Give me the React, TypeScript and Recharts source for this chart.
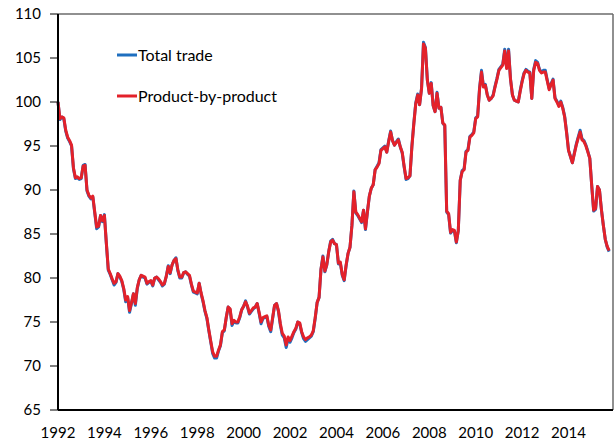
import React from 'react';
import { LineChart, Line, XAxis, YAxis, ReferenceLine } from 'recharts';

// Monthly index values, Jan 1992 .. Oct 2015
const productByProduct = [
  100.0, 98.1, 98.3, 98.2, 96.8, 96.0, 95.6, 95.1, 92.5, 91.4, 91.5, 91.3, // 1992
  91.4, 92.7, 92.8, 90.0, 89.4, 89.1, 89.3, 87.5, 85.8, 85.9, 87.1, 86.5, // 1993
  87.1, 84.0, 81.0, 80.5, 79.9, 79.4, 79.6, 80.5, 80.2, 79.7, 78.8, 77.5, // 1994
  77.9, 76.3, 77.2, 78.2, 77.1, 78.9, 79.8, 80.3, 80.2, 80.1, 79.4, 79.6, // 1995
  79.7, 79.2, 80.0, 80.1, 79.9, 79.6, 79.2, 79.4, 80.2, 81.3, 80.6, 81.5, // 1996
  82.0, 82.2, 80.9, 80.1, 80.1, 80.6, 80.7, 80.5, 80.3, 79.3, 78.5, 78.4, // 1997
  78.3, 79.4, 78.3, 77.4, 76.3, 75.5, 74.1, 72.8, 71.6, 71.1, 71.1, 71.8, // 1998
  72.4, 73.9, 74.1, 75.5, 76.7, 76.5, 74.8, 75.2, 75.0, 75.0, 75.6, 76.4, // 1999
  76.8, 77.3, 76.8, 76.0, 76.3, 76.6, 76.7, 77.1, 76.1, 75.0, 75.5, 75.6, // 2000
  75.7, 74.6, 74.1, 75.5, 76.9, 77.1, 76.3, 74.8, 73.7, 73.4, 72.4, 73.3, // 2001
  72.9, 73.4, 73.9, 74.3, 75.0, 74.9, 73.9, 73.3, 73.0, 73.2, 73.3, 73.5, // 2002
  74.0, 75.5, 77.2, 77.8, 81.0, 82.4, 80.8, 81.5, 83.0, 84.1, 84.3, 83.9, // 2003
  83.8, 81.7, 81.8, 80.4, 79.8, 81.5, 82.8, 83.5, 86.0, 89.8, 87.5, 87.2, // 2004
  86.8, 86.4, 87.7, 85.6, 87.5, 89.3, 90.2, 90.6, 92.3, 92.6, 93.0, 94.5, // 2005
  94.7, 94.9, 94.3, 95.5, 96.6, 95.6, 95.1, 95.4, 95.7, 94.9, 94.3, 92.7, // 2006
  91.3, 91.4, 91.6, 94.9, 97.5, 99.8, 100.8, 99.7, 101.5, 106.6, 106.1, 102.5, // 2007
  101.0, 102.1, 99.6, 98.9, 101.0, 99.3, 99.4, 97.6, 97.4, 87.6, 87.3, 85.2, // 2008
  85.5, 85.4, 84.1, 85.4, 91.1, 92.1, 92.3, 94.3, 94.5, 96.0, 96.2, 96.5, // 2009
  98.1, 98.3, 101.5, 103.4, 101.7, 101.9, 100.8, 100.2, 100.4, 100.7, 101.7, 102.6, // 2010
  103.6, 103.9, 104.2, 105.8, 103.8, 105.8, 102.6, 100.8, 100.2, 100.1, 100.0, 101.2, // 2011
  102.3, 103.2, 103.6, 103.4, 103.3, 100.4, 103.6, 104.5, 104.4, 103.6, 103.3, 103.4, // 2012
  103.4, 102.4, 101.4, 102.0, 102.5, 100.4, 100.0, 99.5, 100.0, 99.3, 98.3, 96.5, // 2013
  94.5, 93.8, 93.1, 94.1, 95.1, 95.9, 96.6, 95.7, 95.5, 95.0, 94.3, 93.6, // 2014
  90.5, 87.7, 87.9, 90.4, 90.0, 87.8, 86.0, 84.4, 83.6, 83.1, // 2015
];

const totalTrade = [
  100.0, 98.0, 98.3, 98.1, 96.7, 95.9, 95.5, 95.0, 92.4, 91.3, 91.4, 91.2, // 1992
  91.3, 92.8, 92.9, 89.9, 89.3, 89.0, 89.2, 87.4, 85.6, 85.8, 87.1, 86.4, // 1993
  87.2, 83.9, 80.9, 80.4, 79.8, 79.2, 79.5, 80.5, 80.1, 79.6, 78.7, 77.3, // 1994
  77.8, 76.1, 77.1, 78.2, 76.9, 78.8, 79.8, 80.3, 80.1, 80.0, 79.3, 79.5, // 1995
  79.6, 79.1, 80.0, 80.1, 79.8, 79.5, 79.1, 79.3, 80.2, 81.4, 80.5, 81.5, // 1996
  82.0, 82.3, 80.8, 80.0, 80.0, 80.6, 80.7, 80.4, 80.2, 79.2, 78.4, 78.3, // 1997
  78.2, 79.4, 78.2, 77.3, 76.2, 75.4, 74.0, 72.7, 71.4, 70.9, 70.9, 71.7, // 1998
  72.3, 73.8, 74.0, 75.5, 76.7, 76.4, 74.6, 75.1, 74.9, 74.9, 75.5, 76.4, // 1999
  76.8, 77.4, 76.7, 75.9, 76.2, 76.5, 76.7, 77.1, 76.0, 74.8, 75.4, 75.5, // 2000
  75.6, 74.5, 73.9, 75.4, 76.9, 77.1, 76.2, 74.6, 73.5, 73.2, 72.1, 73.1, // 2001
  72.7, 73.2, 73.8, 74.2, 75.0, 74.8, 73.8, 73.1, 72.8, 73.0, 73.2, 73.4, // 2002
  73.9, 75.4, 77.2, 77.8, 81.0, 82.5, 80.7, 81.5, 83.0, 84.2, 84.4, 83.9, // 2003
  83.8, 81.6, 81.7, 80.3, 79.7, 81.4, 82.8, 83.5, 86.0, 89.9, 87.4, 87.1, // 2004
  86.7, 86.3, 87.7, 85.5, 87.5, 89.3, 90.2, 90.6, 92.3, 92.7, 93.1, 94.6, // 2005
  94.8, 95.0, 94.3, 95.6, 96.7, 95.6, 95.1, 95.5, 95.8, 94.9, 94.2, 92.6, // 2006
  91.2, 91.3, 91.6, 95.0, 97.6, 99.9, 100.9, 99.7, 101.6, 106.8, 106.2, 102.5, // 2007
  101.0, 102.2, 99.6, 98.9, 101.1, 99.3, 99.4, 97.6, 97.3, 87.5, 87.2, 85.1, // 2008
  85.4, 85.3, 84.0, 85.4, 91.1, 92.2, 92.4, 94.4, 94.6, 96.1, 96.3, 96.6, // 2009
  98.2, 98.4, 101.6, 103.6, 101.8, 102.0, 100.8, 100.2, 100.4, 100.8, 101.8, 102.7, // 2010
  103.7, 104.0, 104.3, 106.0, 103.9, 106.0, 102.6, 100.8, 100.2, 100.1, 100.0, 101.3, // 2011
  102.4, 103.3, 103.7, 103.5, 103.4, 100.4, 103.7, 104.7, 104.5, 103.7, 103.4, 103.6, // 2012
  103.6, 102.5, 101.5, 102.1, 102.6, 100.5, 100.1, 99.6, 100.1, 99.4, 98.4, 96.6, // 2013
  94.5, 93.8, 93.1, 94.2, 95.2, 96.0, 96.8, 95.8, 95.6, 95.1, 94.4, 93.6, // 2014
  90.5, 87.6, 87.8, 90.4, 90.0, 87.8, 86.0, 84.4, 83.5, 83.0, // 2015
];

const yearLabels = ['1992', '1994', '1996', '1998', '2000', '2002', '2004', '2006', '2008', '2010', '2012', '2014'];
const yTicks = [65, 70, 75, 80, 85, 90, 95, 100, 105, 110];
const seriesNames = ['Total trade', 'Product-by-product'];

const data = productByProduct.map((v, i) => ({ i, total: totalTrade[i], product: v }));
const xTicks = yearLabels.map((_, k) => k * 24);

const BLUE = '#1f6fbf';
const RED = '#e3212a';
const FONT = 'Lato, "Open Sans", sans-serif';

const LegendBox = () => (
  <div style={{ position: 'absolute', left: 117, top: 34, fontFamily: FONT, fontSize: 16, color: '#000' }}>
    {[BLUE, RED].map((c, k) => (
      <div key={k} style={{ display: 'flex', alignItems: 'center', height: 41 }}>
        <svg width={20} height={6} style={{ display: 'block' }}>
          <line x1={0} y1={3} x2={20} y2={3} stroke={c} strokeWidth={3} />
        </svg>
        <span style={{ marginLeft: 1, whiteSpace: 'nowrap' }}>{seriesNames[k]}</span>
      </div>
    ))}
  </div>
);

export default function App() {
  return (
    <div style={{ position: 'absolute', left: 0, top: 0, width: 615, height: 445, background: '#fff' }}>
      <LineChart width={615} height={445} data={data} margin={{ top: 14, right: 2, left: 0, bottom: 0 }}>
        <XAxis
          type="number"
          dataKey="i"
          domain={[0, 287]}
          ticks={xTicks}
          interval={0}
          tickFormatter={(v: number) => yearLabels[Math.round(v / 24)]}
          tickLine={false}
          tickSize={0}
          tickMargin={17}
          height={35}
          axisLine={{ stroke: '#000', strokeWidth: 2 }}
          tick={{ fill: '#000', fontSize: 15, fontFamily: FONT }}
        />
        <YAxis
          type="number"
          domain={[65, 110]}
          ticks={yTicks}
          interval={0}
          width={58}
          tickSize={8}
          tickMargin={9}
          axisLine={{ stroke: '#000', strokeWidth: 2 }}
          tickLine={{ stroke: '#000', strokeWidth: 1 }}
          tick={{ fill: '#000', fontSize: 15, fontFamily: FONT }}
        />
        <ReferenceLine y={110} stroke="#6b6b6b" strokeWidth={1.5} ifOverflow="extendDomain" />
        <ReferenceLine x={287} stroke="#6b6b6b" strokeWidth={1.5} ifOverflow="extendDomain" />
        <Line
          type="linear"
          dataKey="total"
          name={seriesNames[0]}
          stroke={BLUE}
          strokeWidth={3}
          dot={false}
          activeDot={false}
          strokeLinejoin="round"
          isAnimationActive={false}
        />
        <Line
          type="linear"
          dataKey="product"
          name={seriesNames[1]}
          stroke={RED}
          strokeWidth={3}
          dot={false}
          activeDot={false}
          strokeLinejoin="round"
          isAnimationActive={false}
        />
      </LineChart>
      <LegendBox />
    </div>
  );
}
